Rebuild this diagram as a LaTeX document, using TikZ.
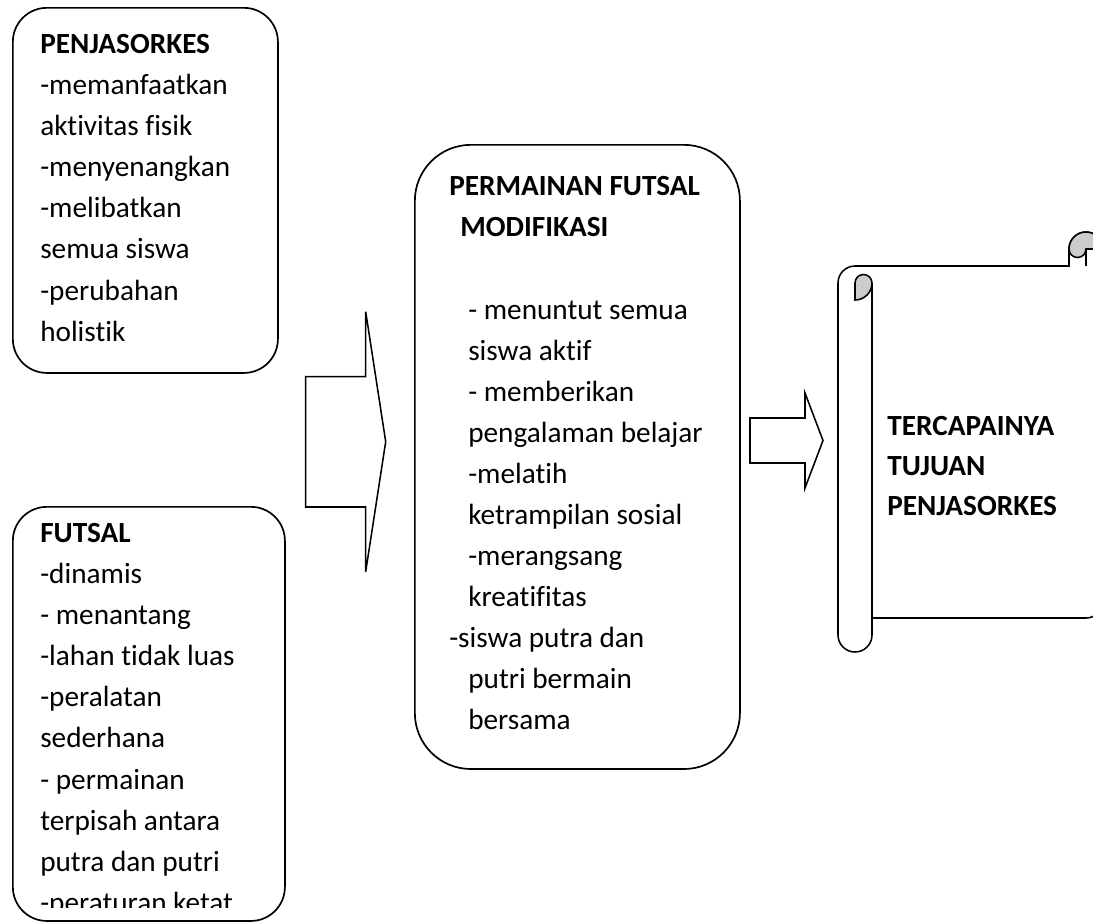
\documentclass[tikz,border=0pt]{standalone}
\usepackage{fontspec}
\setmainfont{Carlito}[Ligatures={NoCommon,NoContextual}, Contextuals={NoAlternate}]
\usetikzlibrary{positioning}

\begin{document}
\begin{tikzpicture}[
    x=0.025cm, y=-0.025cm,
    % Rounded boxes
    roundbox/.style={
        draw, line width=1.2pt,
        rectangle, rounded corners=0.85cm,
        anchor=north west
    },
    bigbox/.style={
        draw, line width=1.2pt,
        rectangle, rounded corners=1.4cm,
        anchor=north west
    },
    % Box texts
    boxtext/.style={
        anchor=north west, inner sep=0pt, align=left,
        font=\fontsize{20.8}{29.2}\selectfont
    },
    % Block arrows and scroll
    blockarrow/.style={draw, line width=1.1pt, line join=miter},
    scrollline/.style={draw, line width=1.1pt},
    curl/.style={fill=black!20, draw, line width=1.1pt}
]
\clip (0,0) rectangle (1093,922);

% Left boxes
\node[roundbox, minimum width=6.625cm, minimum height=9.125cm] (penjas) at (12,7) {};
\node[roundbox, minimum width=6.8cm, minimum height=10.35cm] (futsal) at (12,506) {};

\node[boxtext] (penjastext) at (40,34.2) {\textbf{PENJASORKES}\\-memanfaatkan\\aktivitas fisik\\-menyenangkan\\-melibatkan\\semua siswa\\-perubahan\\holistik};

\begin{scope}
    \clip (12,506) rectangle (284,907);
    \node[boxtext] (futsaltext) at (40,523.2) {\textbf{FUTSAL}\\-dinamis\\- menantang\\-lahan tidak luas\\-peralatan\\sederhana\\- permainan\\terpisah antara\\putra dan putri\\-peraturan ketat};
\end{scope}

% Middle box
\node[bigbox, minimum width=8.125cm, minimum height=15.6cm] (modif) at (414,144) {};
\node[boxtext] (modiftext) at (449,176.2) {\textbf{PERMAINAN FUTSAL}\\
    \hspace*{0.275cm}\textbf{MODIFIKASI}\\[1.03cm]
    \hspace*{0.475cm}- menuntut semua\\
    \hspace*{0.475cm}siswa aktif\\
    \hspace*{0.475cm}- memberikan\\
    \hspace*{0.475cm}pengalaman belajar\\
    \hspace*{0.475cm}-melatih\\
    \hspace*{0.475cm}ketrampilan sosial\\
    \hspace*{0.475cm}-merangsang\\
    \hspace*{0.475cm}kreatifitas\\
    -siswa putra dan\\
    \hspace*{0.475cm}putri bermain\\
    \hspace*{0.475cm}bersama};

% Block arrows
\draw[blockarrow] (305.7,376.7) -- (365.7,376.7) -- (365.7,311.7) -- (385.7,441.7)
    -- (365.7,571.7) -- (365.7,507) -- (305.7,507) -- cycle;
\draw[blockarrow] (750,418) -- (805,418) -- (805,393) -- (823,440.5)
    -- (805,488) -- (805,463) -- (750,463) -- cycle;

% Scroll
\draw[scrollline] (872,283) -- (872,635) arc (0:180:17) -- (838,283) arc (180:270:17)
    -- (1069,266) -- (1069,249) arc (180:360:17) -- (1103,601) arc (0:90:17) -- (872,618);
\draw[curl] (855,283) arc (180:360:8.5) arc (0:90:17) -- cycle;
\draw[curl] (1069,249) arc (180:360:17) -- (1086,249) arc (0:180:8.5) -- cycle;
\draw[scrollline] (1086,249) -- (1086,266);

\node[boxtext, font=\fontsize{20.8}{28.4}\selectfont\bfseries] (goal) at (887,416.2) {TERCAPAINYA\\TUJUAN\\PENJASORKES};

\end{tikzpicture}
\end{document}
